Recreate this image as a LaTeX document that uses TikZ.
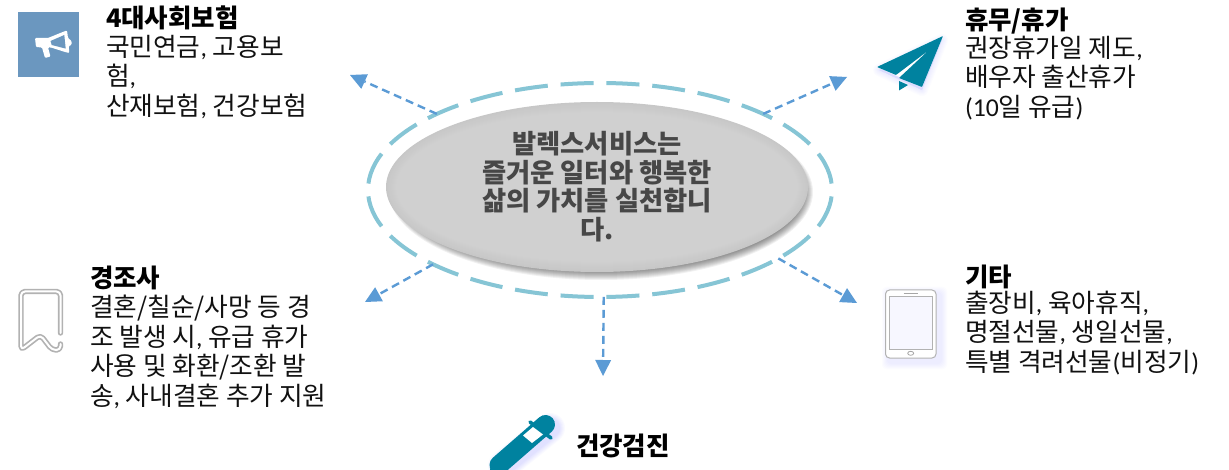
\documentclass[tikz,border=0pt]{standalone}
\usepackage{fontspec}
\usetikzlibrary{shapes.geometric,arrows.meta}
\setmainfont{Noto Sans CJK KR}
\newfontfamily\latinf{Carlito}
\definecolor{ringc}{HTML}{86C5D5}
\definecolor{arrc}{HTML}{5B9BD5}
\definecolor{tealc}{HTML}{00829F}
\definecolor{boxc}{HTML}{6B97BF}
\definecolor{txtc}{HTML}{111111}
\tikzset{
  x=1pt,y=-1pt,
  body/.style={anchor=north west,inner sep=0pt,outer sep=0pt,align=left,text=txtc,font=\fontsize{25.7}{29.5}\selectfont},
  head/.style={anchor=north west,inner sep=0pt,outer sep=0pt,text=black,font=\fontsize{25.5}{29.5}\selectfont\bfseries},
  flow/.style={draw=arrc,line width=2.4pt,dash pattern=on 8pt off 5pt,-{Triangle[length=16pt,width=16pt,fill=arrc,line width=0pt]}},
  ringline/.style={ellipse,draw=ringc,line width=4pt,dash pattern=on 33pt off 12.9pt,dash phase=39.45pt,minimum width=464pt,minimum height=214pt,inner sep=0pt,outer sep=0pt},
}
\begin{document}
\begin{tikzpicture}
\useasboundingbox (0,0) rectangle (1229,470);
\fill[white] (0,0) rectangle (1229,470);
% soft shadow of the centre
\foreach \i in {0,...,9}{
  \fill[black,opacity=0.055] (601,192) ellipse [x radius={212-\i},y radius={88-\i}];
}
\foreach \i in {0,...,10}{
  \pgfmathsetmacro{\g}{22-0.35*\i}
  \fill[black!\g] (597,187) ellipse [x radius={211-\i},y radius={85-\i}];
}
\node[ringline] (ring) at (600,190) {};
\node[inner sep=0pt,outer sep=0pt,align=center,text=black!72,font=\fontsize{26.3}{28.5}\selectfont\bfseries] (core) at (597,186.5) {발렉스서비스는\\즐거운 일터와 행복한\\삶의 가치를 실천합니\\다.};
% free ends
\coordinate (nw) at (350,75);
\coordinate (ne) at (847,77);
\coordinate (sw) at (365,302);
\coordinate (se) at (857,303);
\coordinate (so) at (603,376);
\draw[flow] (ring.155) -- (nw);
\draw[flow] (ring.25) -- (ne);
\draw[flow] (ring.204) -- (sw);
\draw[flow] (ring.-21) -- (se);
\draw[flow] (ring.-88.5) -- (so);
% top left: megaphone
\fill[boxc] (18,12) rectangle (79,77);
\fill[white,rounded corners=1pt] (35,38) -- (48,38) -- (64,31.5) -- (67,30.5) -- (68,38) -- (71.5,41) -- (71.5,45) -- (68.7,46) -- (69.3,53) -- (65,52) -- (51,47.5) -- (48,47.5) -- (50.5,56.5) -- (45,58) -- (42,47.5) -- (36,47) -- cycle;
\fill[boxc] (50.5,41) -- (64.3,35) -- (65.7,48.6) -- (51.7,45) -- cycle;
\node[head] (t1) at (106,6) {4대사회보험};
\node[body] (b1) at (106,35) {국민연금{\latinf,} 고용보\\험{\latinf,}\\산재보험{\latinf,} 건강보험};
% top right: paper plane
\foreach \i in {1,...,6}{
  \fill[blue!60!white,opacity=0.02,line join=round,draw=blue!60!white,line width={2*\i pt}] (942,40) -- (879,70) -- (922,90) -- cycle;
}
\fill[white] (943,36) -- (877,67) -- (922,87) -- cycle;
\fill[tealc,rounded corners=0.6pt] (943,36) -- (877,67) -- (896,75) -- (929,50) -- (899,78) -- (922,87) -- cycle;
\fill[tealc] (899,81) -- (908,85) -- (899,90.5) -- cycle;
\node[head] (t2) at (965,8) {휴무/휴가};
\node[body] (b2) at (965,36) {권장휴가일 제도{\latinf,}\\배우자 출산휴가\\{\latinf (10}일 유급{\latinf )}};
% middle left: bookmark
\draw[black!30,line width=5.4pt,line cap=round,line join=round,rounded corners=4pt] (60.5,333) -- (60.5,291.5) -- (21,291.5) -- (21,350) -- (40.5,335) -- (52,350) -- (60.5,350) -- (60.5,344);
\draw[white,line width=2pt,line cap=round,line join=round,rounded corners=4pt] (60.5,333) -- (60.5,291.5) -- (21,291.5) -- (21,350) -- (40.5,335) -- (52,350) -- (60.5,350) -- (60.5,344);
\node[head] (t3) at (90,266) {경조사};
\node[body] (b3) at (90,295) {결혼/칠순/사망 등 경\\조 발생 시{\latinf,} 유급 휴가\\사용 및 화환/조환 발\\송{\latinf,} 사내결혼 추가 지원};
% bottom: pen
\begin{scope}
\clip (470,400) rectangle (600,470);
\foreach \i in {1,...,6}{
  \draw[blue!60!white,opacity=0.03,line width={18+2*\i pt},line cap=round] (503,466) -- (550,428);
}
\fill[tealc] (490,470) -- (493,458) -- (503,470) -- cycle;
\draw[tealc,line width=19pt,line cap=round] (499,465) -- (545.5,424.5);
\draw[tealc,line width=3.6pt,line cap=round] (530,422) -- (551,438);
\fill[white] (523,435.5) -- (533,427) -- (543,434.5) -- (532,443) -- cycle;
\end{scope}
\node[head,anchor=west] (t4) at (576,446) {건강검진};
% tablet
\foreach \i in {1,...,6}{
  \fill[blue!60!white,opacity=0.02,rounded corners=4pt] ({888-\i},{293-\i}) rectangle ({941+\i},{363+\i});
}
\draw[black!30,fill=white,line width=1pt,rounded corners=4pt] (885.5,290) rectangle (936,358);
\draw[black!30,line width=1pt,fill=blue!3] (889.5,297) rectangle (932,349);
\draw[black!35,line width=1pt] (903.5,293.7) -- (918,293.7);
\draw[black!35,line width=0.8pt] (910.7,353.3) ellipse [x radius=3,y radius=2];
\node[head] (t5) at (965,265) {기타};
\node[body] (b5) at (965,291) {출장비{\latinf,} 육아휴직{\latinf,}\\명절선물{\latinf,} 생일선물{\latinf,}\\특별 격려선물{\latinf (}비정기{\latinf )}};
\end{tikzpicture}
\end{document}
